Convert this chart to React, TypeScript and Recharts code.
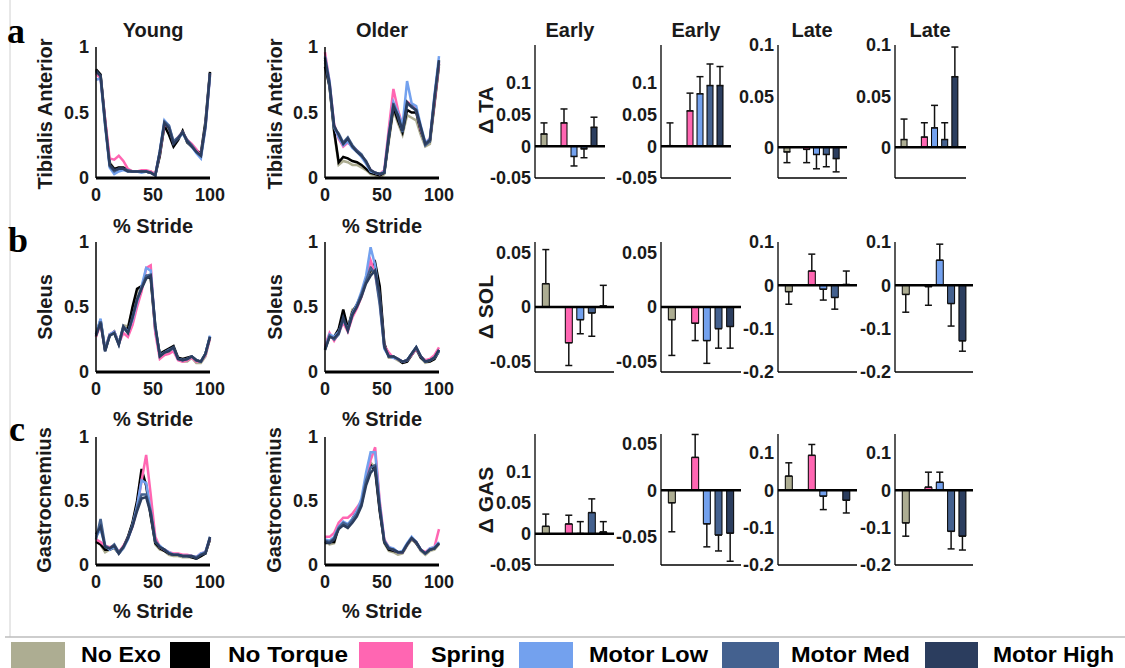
import React from 'react';
import { LineChart, Line, XAxis, YAxis, BarChart, Bar, ErrorBar, Cell, ReferenceLine } from 'recharts';

const FONT = '"Liberation Sans", Arial, sans-serif';
const SERIF = '"Liberation Serif", "Times New Roman", serif';

// ---------- categories / series ----------
const SERIES_KEYS = ['noExo', 'noTorque', 'spring', 'motorLow', 'motorMed', 'motorHigh'];
const SERIES_LABELS = ['No Exo', 'No Torque', 'Spring', 'Motor Low', 'Motor Med', 'Motor High'];
const SERIES_COLORS = ['#ADAD92', '#000000', '#FF66B2', '#73A1EE', '#44618F', '#2B3D5E'];

// ---------- % stride samples ----------
const STRIDE = [0, 4, 8, 12, 16, 20, 24, 28, 32, 36, 40, 44, 48, 52, 56, 60, 64, 68, 72, 76, 80, 84, 88, 92, 96, 100];

// ---------- Young Tibialis Anterior ----------
const YTA_NOEXO = [0.80, 0.77, 0.40, 0.12, 0.07, 0.08, 0.07, 0.06, 0.05, 0.05, 0.05, 0.05, 0.05, 0.03, 0.18, 0.40, 0.38, 0.27, 0.31, 0.34, 0.29, 0.25, 0.21, 0.16, 0.38, 0.79];
const YTA_NOTORQUE = [0.83, 0.79, 0.44, 0.11, 0.07, 0.08, 0.08, 0.06, 0.05, 0.05, 0.05, 0.05, 0.04, 0.02, 0.17, 0.40, 0.33, 0.24, 0.29, 0.36, 0.27, 0.24, 0.21, 0.19, 0.43, 0.81];
const YTA_SPRING = [0.80, 0.76, 0.45, 0.15, 0.14, 0.17, 0.13, 0.07, 0.05, 0.05, 0.06, 0.06, 0.05, 0.03, 0.19, 0.41, 0.39, 0.27, 0.31, 0.35, 0.29, 0.26, 0.22, 0.17, 0.39, 0.79];
const YTA_MOTORLOW = [0.75, 0.76, 0.40, 0.08, 0.03, 0.05, 0.06, 0.05, 0.05, 0.05, 0.04, 0.05, 0.04, 0.02, 0.21, 0.44, 0.40, 0.27, 0.30, 0.34, 0.28, 0.24, 0.19, 0.15, 0.38, 0.78];
const YTA_MOTORMED = [0.81, 0.78, 0.42, 0.09, 0.05, 0.07, 0.07, 0.06, 0.05, 0.05, 0.05, 0.05, 0.04, 0.02, 0.20, 0.43, 0.40, 0.28, 0.31, 0.35, 0.29, 0.25, 0.20, 0.17, 0.40, 0.80];
const YTA_MOTORHIGH = [0.82, 0.78, 0.42, 0.10, 0.06, 0.07, 0.07, 0.05, 0.05, 0.05, 0.05, 0.05, 0.04, 0.02, 0.20, 0.42, 0.38, 0.26, 0.30, 0.35, 0.28, 0.24, 0.20, 0.17, 0.40, 0.80];

// ---------- Older Tibialis Anterior ----------
const OTA_NOEXO = [0.88, 0.69, 0.35, 0.10, 0.13, 0.12, 0.10, 0.10, 0.08, 0.06, 0.03, 0.02, 0.00, 0.03, 0.28, 0.52, 0.42, 0.33, 0.48, 0.46, 0.44, 0.33, 0.24, 0.26, 0.55, 0.85];
const OTA_NOTORQUE = [0.85, 0.70, 0.36, 0.12, 0.16, 0.15, 0.13, 0.12, 0.10, 0.07, 0.04, 0.03, 0.02, 0.04, 0.30, 0.54, 0.44, 0.35, 0.52, 0.50, 0.50, 0.36, 0.27, 0.28, 0.57, 0.87];
const OTA_SPRING = [0.96, 0.73, 0.41, 0.30, 0.24, 0.27, 0.24, 0.21, 0.17, 0.12, 0.06, 0.04, 0.03, 0.06, 0.38, 0.68, 0.52, 0.40, 0.58, 0.56, 0.53, 0.37, 0.27, 0.30, 0.58, 0.88];
const OTA_MOTORLOW = [0.93, 0.74, 0.39, 0.31, 0.25, 0.28, 0.23, 0.20, 0.16, 0.11, 0.05, 0.04, 0.03, 0.05, 0.34, 0.58, 0.50, 0.40, 0.74, 0.57, 0.55, 0.40, 0.27, 0.30, 0.63, 0.93];
const OTA_MOTORMED = [0.90, 0.70, 0.38, 0.34, 0.27, 0.31, 0.25, 0.21, 0.18, 0.12, 0.06, 0.04, 0.03, 0.04, 0.31, 0.57, 0.47, 0.35, 0.56, 0.55, 0.51, 0.38, 0.25, 0.28, 0.62, 0.89];
const OTA_MOTORHIGH = [0.92, 0.72, 0.40, 0.33, 0.26, 0.30, 0.24, 0.20, 0.17, 0.13, 0.06, 0.04, 0.03, 0.04, 0.33, 0.55, 0.48, 0.36, 0.58, 0.54, 0.52, 0.39, 0.26, 0.29, 0.60, 0.90];

// ---------- Young Soleus ----------
const YSOL_NOEXO = [0.27, 0.39, 0.18, 0.29, 0.30, 0.22, 0.36, 0.35, 0.48, 0.62, 0.65, 0.72, 0.73, 0.34, 0.13, 0.13, 0.15, 0.17, 0.10, 0.08, 0.08, 0.11, 0.07, 0.07, 0.12, 0.26];
const YSOL_NOTORQUE = [0.29, 0.40, 0.17, 0.28, 0.31, 0.22, 0.34, 0.33, 0.50, 0.64, 0.66, 0.74, 0.72, 0.32, 0.14, 0.16, 0.18, 0.20, 0.11, 0.10, 0.11, 0.12, 0.09, 0.08, 0.14, 0.27];
const YSOL_SPRING = [0.27, 0.37, 0.17, 0.29, 0.31, 0.22, 0.30, 0.27, 0.36, 0.50, 0.62, 0.80, 0.82, 0.30, 0.10, 0.13, 0.14, 0.16, 0.09, 0.08, 0.09, 0.11, 0.08, 0.08, 0.13, 0.26];
const YSOL_MOTORLOW = [0.29, 0.41, 0.17, 0.29, 0.31, 0.22, 0.35, 0.31, 0.40, 0.54, 0.66, 0.80, 0.78, 0.34, 0.13, 0.15, 0.17, 0.18, 0.10, 0.09, 0.10, 0.12, 0.09, 0.08, 0.14, 0.28];
const YSOL_MOTORMED = [0.28, 0.39, 0.16, 0.28, 0.30, 0.21, 0.34, 0.30, 0.42, 0.55, 0.65, 0.74, 0.75, 0.35, 0.12, 0.15, 0.17, 0.19, 0.10, 0.09, 0.10, 0.12, 0.09, 0.08, 0.14, 0.27];
const YSOL_MOTORHIGH = [0.28, 0.38, 0.16, 0.28, 0.30, 0.21, 0.35, 0.30, 0.42, 0.56, 0.64, 0.72, 0.74, 0.36, 0.12, 0.15, 0.16, 0.19, 0.10, 0.09, 0.10, 0.12, 0.09, 0.08, 0.14, 0.27];

// ---------- Older Soleus ----------
const OSOL_NOEXO = [0.17, 0.27, 0.26, 0.32, 0.44, 0.33, 0.48, 0.50, 0.58, 0.70, 0.76, 0.80, 0.62, 0.21, 0.11, 0.11, 0.09, 0.07, 0.08, 0.13, 0.18, 0.11, 0.07, 0.08, 0.10, 0.16];
const OSOL_NOTORQUE = [0.18, 0.28, 0.27, 0.33, 0.48, 0.34, 0.46, 0.52, 0.60, 0.72, 0.78, 0.84, 0.66, 0.22, 0.12, 0.12, 0.10, 0.07, 0.08, 0.13, 0.18, 0.11, 0.08, 0.08, 0.10, 0.16];
const OSOL_SPRING = [0.20, 0.30, 0.24, 0.30, 0.38, 0.31, 0.42, 0.49, 0.58, 0.70, 0.86, 0.76, 0.55, 0.20, 0.15, 0.11, 0.10, 0.08, 0.09, 0.13, 0.18, 0.12, 0.09, 0.10, 0.13, 0.19];
const OSOL_MOTORLOW = [0.18, 0.29, 0.27, 0.31, 0.40, 0.33, 0.45, 0.52, 0.62, 0.74, 0.96, 0.82, 0.55, 0.18, 0.12, 0.11, 0.10, 0.08, 0.09, 0.14, 0.19, 0.12, 0.08, 0.09, 0.11, 0.16];
const OSOL_MOTORMED = [0.17, 0.28, 0.25, 0.29, 0.41, 0.32, 0.44, 0.51, 0.60, 0.70, 0.80, 0.76, 0.52, 0.19, 0.12, 0.12, 0.10, 0.08, 0.09, 0.14, 0.19, 0.12, 0.08, 0.09, 0.11, 0.17];
const OSOL_MOTORHIGH = [0.17, 0.27, 0.26, 0.30, 0.42, 0.32, 0.44, 0.50, 0.58, 0.68, 0.74, 0.78, 0.60, 0.20, 0.12, 0.12, 0.10, 0.08, 0.09, 0.14, 0.19, 0.12, 0.08, 0.09, 0.11, 0.17];

// ---------- Young Gastrocnemius ----------
const YGAS_NOEXO = [0.19, 0.16, 0.10, 0.12, 0.13, 0.09, 0.13, 0.21, 0.32, 0.48, 0.70, 0.64, 0.40, 0.16, 0.12, 0.11, 0.08, 0.07, 0.07, 0.06, 0.06, 0.06, 0.05, 0.07, 0.09, 0.20];
const YGAS_NOTORQUE = [0.18, 0.16, 0.12, 0.12, 0.14, 0.09, 0.14, 0.22, 0.33, 0.50, 0.75, 0.62, 0.38, 0.17, 0.13, 0.11, 0.09, 0.08, 0.08, 0.07, 0.07, 0.06, 0.05, 0.07, 0.09, 0.20];
const YGAS_SPRING = [0.20, 0.18, 0.15, 0.14, 0.15, 0.10, 0.15, 0.21, 0.30, 0.44, 0.66, 0.86, 0.55, 0.22, 0.14, 0.12, 0.10, 0.09, 0.09, 0.08, 0.08, 0.07, 0.06, 0.09, 0.10, 0.21];
const YGAS_MOTORLOW = [0.22, 0.28, 0.15, 0.12, 0.14, 0.09, 0.13, 0.20, 0.31, 0.46, 0.66, 0.64, 0.42, 0.18, 0.15, 0.12, 0.10, 0.08, 0.08, 0.07, 0.07, 0.07, 0.06, 0.09, 0.10, 0.22];
const YGAS_MOTORMED = [0.20, 0.36, 0.15, 0.13, 0.16, 0.10, 0.14, 0.21, 0.31, 0.44, 0.55, 0.55, 0.42, 0.19, 0.14, 0.12, 0.09, 0.08, 0.08, 0.07, 0.07, 0.07, 0.06, 0.08, 0.10, 0.21];
const YGAS_MOTORHIGH = [0.24, 0.30, 0.14, 0.13, 0.15, 0.09, 0.14, 0.21, 0.30, 0.42, 0.52, 0.53, 0.40, 0.18, 0.14, 0.12, 0.09, 0.08, 0.08, 0.07, 0.07, 0.07, 0.05, 0.08, 0.09, 0.22];

// ---------- Older Gastrocnemius ----------
const OGAS_NOEXO = [0.18, 0.16, 0.17, 0.29, 0.32, 0.29, 0.34, 0.40, 0.47, 0.66, 0.80, 0.76, 0.44, 0.17, 0.11, 0.10, 0.08, 0.09, 0.15, 0.20, 0.17, 0.11, 0.08, 0.11, 0.12, 0.16];
const OGAS_NOTORQUE = [0.17, 0.18, 0.18, 0.30, 0.33, 0.30, 0.36, 0.42, 0.48, 0.68, 0.78, 0.74, 0.42, 0.18, 0.12, 0.11, 0.10, 0.10, 0.16, 0.21, 0.17, 0.12, 0.09, 0.12, 0.13, 0.17];
const OGAS_SPRING = [0.22, 0.22, 0.25, 0.33, 0.37, 0.37, 0.40, 0.45, 0.50, 0.66, 0.82, 0.92, 0.50, 0.20, 0.14, 0.12, 0.10, 0.10, 0.16, 0.21, 0.18, 0.12, 0.10, 0.13, 0.14, 0.28];
const OGAS_MOTORLOW = [0.20, 0.19, 0.22, 0.30, 0.34, 0.32, 0.36, 0.42, 0.52, 0.72, 0.88, 0.88, 0.48, 0.19, 0.14, 0.13, 0.10, 0.11, 0.17, 0.22, 0.18, 0.12, 0.09, 0.13, 0.14, 0.18];
const OGAS_MOTORMED = [0.19, 0.18, 0.21, 0.29, 0.33, 0.31, 0.35, 0.40, 0.48, 0.66, 0.76, 0.78, 0.46, 0.19, 0.13, 0.12, 0.10, 0.10, 0.16, 0.21, 0.18, 0.12, 0.09, 0.12, 0.13, 0.17];
const OGAS_MOTORHIGH = [0.18, 0.17, 0.20, 0.28, 0.31, 0.29, 0.33, 0.38, 0.46, 0.62, 0.72, 0.76, 0.44, 0.18, 0.13, 0.12, 0.10, 0.10, 0.16, 0.21, 0.18, 0.12, 0.09, 0.12, 0.13, 0.17];

// ---------- bar means (No Torque = reference, no bar) and signed error (+ up / - down) ----------
const TA_EARLY1_MEAN = [0.0195, null, 0.037, -0.016, -0.004, 0.030];
const TA_EARLY1_ERR = [0.0175, null, 0.022, -0.015, -0.014, 0.016];
const TA_EARLY2_MEAN = [0.001, null, 0.056, 0.083, 0.096, 0.096];
const TA_EARLY2_ERR = [0.036, null, 0.028, 0.027, 0.034, 0.030];
const TA_LATE1_MEAN = [-0.0045, null, -0.002, -0.007, -0.007, -0.011];
const TA_LATE1_ERR = [-0.0105, null, -0.013, -0.014, -0.012, -0.013];
const TA_LATE2_MEAN = [0.0076, null, 0.010, 0.019, 0.0076, 0.069];
const TA_LATE2_ERR = [0.020, null, 0.014, 0.022, 0.0164, 0.029];

const SOL_EARLY1_MEAN = [0.0215, null, -0.033, -0.0117, -0.0055, 0.001];
const SOL_EARLY1_ERR = [0.0315, null, -0.021, -0.013, -0.0215, 0.019];
const SOL_EARLY2_MEAN = [-0.0117, null, -0.015, -0.031, -0.020, -0.018];
const SOL_EARLY2_ERR = [-0.033, null, -0.016, -0.021, -0.018, -0.020];
const SOL_LATE1_MEAN = [-0.0146, null, 0.033, -0.009, -0.028, 0.002];
const SOL_LATE1_ERR = [-0.029, null, 0.039, -0.025, -0.027, 0.031];
const SOL_LATE2_MEAN = [-0.021, null, -0.003, 0.058, -0.042, -0.128];
const SOL_LATE2_ERR = [-0.041, null, -0.043, 0.037, -0.052, -0.024];

const GAS_EARLY1_MEAN = [0.012, null, 0.0158, 0.0005, 0.034, 0.003];
const GAS_EARLY1_ERR = [0.0196, null, 0.014, 0.019, 0.022, 0.0165];
const GAS_EARLY2_MEAN = [-0.0135, null, 0.035, -0.036, -0.048, -0.046];
const GAS_EARLY2_ERR = [-0.031, null, 0.0245, -0.0246, -0.017, -0.030];
const GAS_LATE1_MEAN = [0.0375, null, 0.093, -0.016, 0.000, -0.027];
const GAS_LATE1_ERR = [0.0355, null, 0.029, -0.036, -0.027, -0.034];
const GAS_LATE2_MEAN = [-0.0875, null, 0.008, 0.021, -0.11, -0.123];
const GAS_LATE2_ERR = [-0.0355, null, 0.040, 0.027, -0.047, -0.037];

// ---------- axis ticks / domains ----------
const LINE_Y_TICKS = [0, 0.5, 1];
const LINE_X_TICKS = [0, 50, 100];
const TICKS_EARLY_A = [-0.05, 0, 0.05, 0.1];
const TICKS_LATE_A = [0, 0.05, 0.1];
const TICKS_SOL_EARLY = [-0.05, 0, 0.05];
const TICKS_LATE_BC = [-0.2, -0.1, 0, 0.1];
const TICKS_GAS_EARLY2 = [-0.05, 0, 0.05];

const tickStyle = { fontSize: 18, fontWeight: 700, fill: '#1a1a1a', fontFamily: FONT };

function makeLineData(arrs: number[][]) {
  return STRIDE.map((x, i) => {
    const row: any = { x };
    SERIES_KEYS.forEach((k, j) => { row[k] = arrs[j][i]; });
    return row;
  });
}

function makeBarData(means: (number | null)[], errs: (number | null)[]) {
  return SERIES_KEYS.map((k, i) => {
    const e = errs[i];
    return {
      name: k,
      v: means[i],
      err: e == null ? undefined : [Math.max(0, -e), Math.max(0, e)],
    };
  });
}

function LinePanel({ left, top, w, h, arrs }: any) {
  const YW = 45, XH = 34, MT = 14, MR = 22;
  const rows = makeLineData(arrs);
  return (
    <div style={{ position: 'absolute', left: left - YW, top: top - MT }}>
      <LineChart width={YW + w + MR} height={MT + h + XH} data={rows} margin={{ top: MT, right: MR, left: 0, bottom: 0 }}>
        <XAxis dataKey="x" type="number" domain={[0, 100]} ticks={LINE_X_TICKS} interval={0}
          tickLine={false} axisLine={{ stroke: '#000', strokeWidth: 3 }} tick={tickStyle}
          tickSize={4} tickMargin={6} height={XH} />
        <YAxis type="number" domain={[0, 1]} ticks={LINE_Y_TICKS} interval={0} allowDataOverflow width={YW}
          tickLine={false} axisLine={{ stroke: '#000', strokeWidth: 1.5 }} tick={tickStyle}
          tickSize={5} tickMargin={2} />
        {SERIES_KEYS.map((k, i) => (
          <Line key={k} type="linear" dataKey={k} stroke={SERIES_COLORS[i]} strokeWidth={2.5}
            dot={false} isAnimationActive={false} />
        ))}
      </LineChart>
    </div>
  );
}

function BarPanel({ left, top, w, h, means, errs, domain, ticks, pad }: any) {
  // The x axis is mirrored (inward tick marks) so it takes no room; the bottom margin keeps the plot height
  const YW = 55, XB = 22, MT = 14, MR = 6;
  const rows = makeBarData(means, errs);
  return (
    <div style={{ position: 'absolute', left: left - YW, top: top - MT }}>
      <BarChart width={YW + w + MR} height={MT + h + XB} data={rows} margin={{ top: MT, right: MR, left: 0, bottom: XB }}
        barCategoryGap="20%">
        <XAxis dataKey="name" type="category" ticks={['noTorque', 'motorLow', 'motorHigh']} interval={0}
          tick={false} mirror tickSize={4} tickLine={{ stroke: '#000', strokeWidth: 1 }}
          axisLine={{ stroke: '#000', strokeWidth: 1.3 }} height={4} padding={pad} />
        <YAxis type="number" domain={domain} ticks={ticks} interval={0} allowDataOverflow width={YW}
          tickLine={false} axisLine={{ stroke: '#000', strokeWidth: 1.3 }} tick={tickStyle}
          tickSize={2} tickMargin={2} />
        <Bar dataKey="v" stroke="#000" strokeWidth={1} isAnimationActive={false}>
          {rows.map((r, i) => <Cell key={r.name} fill={SERIES_COLORS[i]} />)}
          <ErrorBar dataKey="err" direction="y" width={3.5} stroke="#111" strokeWidth={1.5} />
        </Bar>
        <ReferenceLine y={0} stroke="#000" strokeWidth={2.5} />
      </BarChart>
    </div>
  );
}

const LINE_COLS = [96, 325];
const LINE_W = 114;
const ROW_A = { top: 47, h: 131 };
const ROW_B = { top: 242, h: 130 };
const ROW_C = { top: 437, h: 128 };

const BAR_COLS_A = [[535, 70], [661, 70], [778, 69], [895, 71]];
const BAR_COLS_BC = [[535, 79], [661, 80], [778, 79], [895, 78]];
const PAD_A = { left: 4, right: 6 };
const PAD_BC = { left: 5, right: 5 };

function VText({ x, y, children, size = 20 }: any) {
  return (
    <text x={x} y={y} transform={`rotate(-90 ${x} ${y})`} textAnchor="middle" dominantBaseline="central"
      fontFamily={FONT} fontWeight={700} fontSize={size} fill="#1a1a1a">{children}</text>
  );
}

function HText({ x, y, children, size = 20 }: any) {
  return (
    <text x={x} y={y} textAnchor="middle" dominantBaseline="central"
      fontFamily={FONT} fontWeight={700} fontSize={size} fill="#1a1a1a">{children}</text>
  );
}

const LEGEND_SWATCH_X = [11, 170, 359, 519, 722, 925];
const LEGEND_SWATCH_W = [54, 40, 54, 54, 57, 53];
const LEGEND_TEXT_X = [81, 228, 431, 589, 791, 993];
const LEGEND_TEXT_W = [80, 120, 74, 119, 119, 121];

export default function App() {
  return (
    <div style={{ position: 'absolute', left: 0, top: 0, width: 1125, height: 668, background: '#fff', overflow: 'hidden' }}>
      {/* line panels */}
      <LinePanel left={LINE_COLS[0]} top={ROW_A.top} w={LINE_W} h={ROW_A.h}
        arrs={[YTA_NOEXO, YTA_NOTORQUE, YTA_SPRING, YTA_MOTORLOW, YTA_MOTORMED, YTA_MOTORHIGH]} />
      <LinePanel left={LINE_COLS[1]} top={ROW_A.top} w={LINE_W} h={ROW_A.h}
        arrs={[OTA_NOEXO, OTA_NOTORQUE, OTA_SPRING, OTA_MOTORLOW, OTA_MOTORMED, OTA_MOTORHIGH]} />
      <LinePanel left={LINE_COLS[0]} top={ROW_B.top} w={LINE_W} h={ROW_B.h}
        arrs={[YSOL_NOEXO, YSOL_NOTORQUE, YSOL_SPRING, YSOL_MOTORLOW, YSOL_MOTORMED, YSOL_MOTORHIGH]} />
      <LinePanel left={LINE_COLS[1]} top={ROW_B.top} w={LINE_W} h={ROW_B.h}
        arrs={[OSOL_NOEXO, OSOL_NOTORQUE, OSOL_SPRING, OSOL_MOTORLOW, OSOL_MOTORMED, OSOL_MOTORHIGH]} />
      <LinePanel left={LINE_COLS[0]} top={ROW_C.top} w={LINE_W} h={ROW_C.h}
        arrs={[YGAS_NOEXO, YGAS_NOTORQUE, YGAS_SPRING, YGAS_MOTORLOW, YGAS_MOTORMED, YGAS_MOTORHIGH]} />
      <LinePanel left={LINE_COLS[1]} top={ROW_C.top} w={LINE_W} h={ROW_C.h}
        arrs={[OGAS_NOEXO, OGAS_NOTORQUE, OGAS_SPRING, OGAS_MOTORLOW, OGAS_MOTORMED, OGAS_MOTORHIGH]} />

      {/* bar panels row a */}
      <BarPanel left={BAR_COLS_A[0][0]} w={BAR_COLS_A[0][1]} top={45} h={133} pad={PAD_A}
        means={TA_EARLY1_MEAN} errs={TA_EARLY1_ERR} domain={[-0.05, 0.16]} ticks={TICKS_EARLY_A} />
      <BarPanel left={BAR_COLS_A[1][0]} w={BAR_COLS_A[1][1]} top={45} h={133} pad={PAD_A}
        means={TA_EARLY2_MEAN} errs={TA_EARLY2_ERR} domain={[-0.05, 0.16]} ticks={TICKS_EARLY_A} />
      <BarPanel left={BAR_COLS_A[2][0]} w={BAR_COLS_A[2][1]} top={45} h={133} pad={PAD_A}
        means={TA_LATE1_MEAN} errs={TA_LATE1_ERR} domain={[-0.03, 0.1]} ticks={TICKS_LATE_A} />
      <BarPanel left={BAR_COLS_A[3][0]} w={BAR_COLS_A[3][1]} top={45} h={133} pad={PAD_A}
        means={TA_LATE2_MEAN} errs={TA_LATE2_ERR} domain={[-0.03, 0.1]} ticks={TICKS_LATE_A} />

      {/* bar panels row b */}
      <BarPanel left={BAR_COLS_BC[0][0]} w={BAR_COLS_BC[0][1]} top={242} h={130} pad={PAD_BC}
        means={SOL_EARLY1_MEAN} errs={SOL_EARLY1_ERR} domain={[-0.06, 0.06]} ticks={TICKS_SOL_EARLY} />
      <BarPanel left={BAR_COLS_BC[1][0]} w={BAR_COLS_BC[1][1]} top={242} h={130} pad={PAD_BC}
        means={SOL_EARLY2_MEAN} errs={SOL_EARLY2_ERR} domain={[-0.06, 0.06]} ticks={TICKS_SOL_EARLY} />
      <BarPanel left={BAR_COLS_BC[2][0]} w={BAR_COLS_BC[2][1]} top={242} h={130} pad={PAD_BC}
        means={SOL_LATE1_MEAN} errs={SOL_LATE1_ERR} domain={[-0.2, 0.1]} ticks={TICKS_LATE_BC} />
      <BarPanel left={BAR_COLS_BC[3][0]} w={BAR_COLS_BC[3][1]} top={242} h={130} pad={PAD_BC}
        means={SOL_LATE2_MEAN} errs={SOL_LATE2_ERR} domain={[-0.2, 0.1]} ticks={TICKS_LATE_BC} />

      {/* bar panels row c */}
      <BarPanel left={BAR_COLS_BC[0][0]} w={BAR_COLS_BC[0][1]} top={434} h={131} pad={PAD_BC}
        means={GAS_EARLY1_MEAN} errs={GAS_EARLY1_ERR} domain={[-0.05, 0.16]} ticks={TICKS_EARLY_A} />
      <BarPanel left={BAR_COLS_BC[1][0]} w={BAR_COLS_BC[1][1]} top={434} h={131} pad={PAD_BC}
        means={GAS_EARLY2_MEAN} errs={GAS_EARLY2_ERR} domain={[-0.08, 0.06]} ticks={TICKS_GAS_EARLY2} />
      <BarPanel left={BAR_COLS_BC[2][0]} w={BAR_COLS_BC[2][1]} top={434} h={131} pad={PAD_BC}
        means={GAS_LATE1_MEAN} errs={GAS_LATE1_ERR} domain={[-0.2, 0.15]} ticks={TICKS_LATE_BC} />
      <BarPanel left={BAR_COLS_BC[3][0]} w={BAR_COLS_BC[3][1]} top={434} h={131} pad={PAD_BC}
        means={GAS_LATE2_MEAN} errs={GAS_LATE2_ERR} domain={[-0.2, 0.15]} ticks={TICKS_LATE_BC} />

      {/* text overlay */}
      <svg width={1125} height={668} style={{ position: 'absolute', left: 0, top: 0, pointerEvents: 'none' }}>
        <line x1={10} y1={0} x2={10} y2={637} stroke="#d0d0d0" strokeWidth={1} />
        <line x1={5} y1={637} x2={1125} y2={637} stroke="#bdbdbd" strokeWidth={1.5} />

        <text x={7} y={43} fontFamily={SERIF} fontWeight={700} fontSize={36} fill="#000">a</text>
        <text x={8} y={252} fontFamily={SERIF} fontWeight={700} fontSize={36} fill="#000">b</text>
        <text x={9} y={441} fontFamily={SERIF} fontWeight={700} fontSize={36} fill="#000">c</text>

        <HText x={153} y={30}>Young</HText>
        <HText x={382} y={30}>Older</HText>
        <HText x={570} y={30}>Early</HText>
        <HText x={696} y={30}>Early</HText>
        <HText x={812} y={30}>Late</HText>
        <HText x={930} y={30}>Late</HText>

        <HText x={153} y={226}>% Stride</HText>
        <HText x={382} y={226}>% Stride</HText>
        <HText x={153} y={419}>% Stride</HText>
        <HText x={382} y={419}>% Stride</HText>
        <HText x={153} y={611}>% Stride</HText>
        <HText x={382} y={611}>% Stride</HText>

        <VText x={45} y={114}>Tibialis Anterior</VText>
        <VText x={275} y={114}>Tibialis Anterior</VText>
        <VText x={45} y={307}>Soleus</VText>
        <VText x={275} y={307}>Soleus</VText>
        <VText x={44} y={500}>Gastrocnemius</VText>
        <VText x={274} y={500}>Gastrocnemius</VText>
        <VText x={485} y={110} size={21}>Δ TA</VText>
        <VText x={485} y={307} size={21}>Δ SOL</VText>
        <VText x={485} y={500} size={21}>Δ GAS</VText>

        {SERIES_LABELS.map((lab, i) => (
          <g key={lab}>
            <rect x={LEGEND_SWATCH_X[i]} y={642} width={LEGEND_SWATCH_W[i]} height={26} fill={SERIES_COLORS[i]} />
            <text x={LEGEND_TEXT_X[i]} y={662} fontFamily={FONT} fontWeight={700} fontSize={22} fill="#000"
              textLength={LEGEND_TEXT_W[i]} lengthAdjust="spacingAndGlyphs">{lab}</text>
          </g>
        ))}
      </svg>
    </div>
  );
}
